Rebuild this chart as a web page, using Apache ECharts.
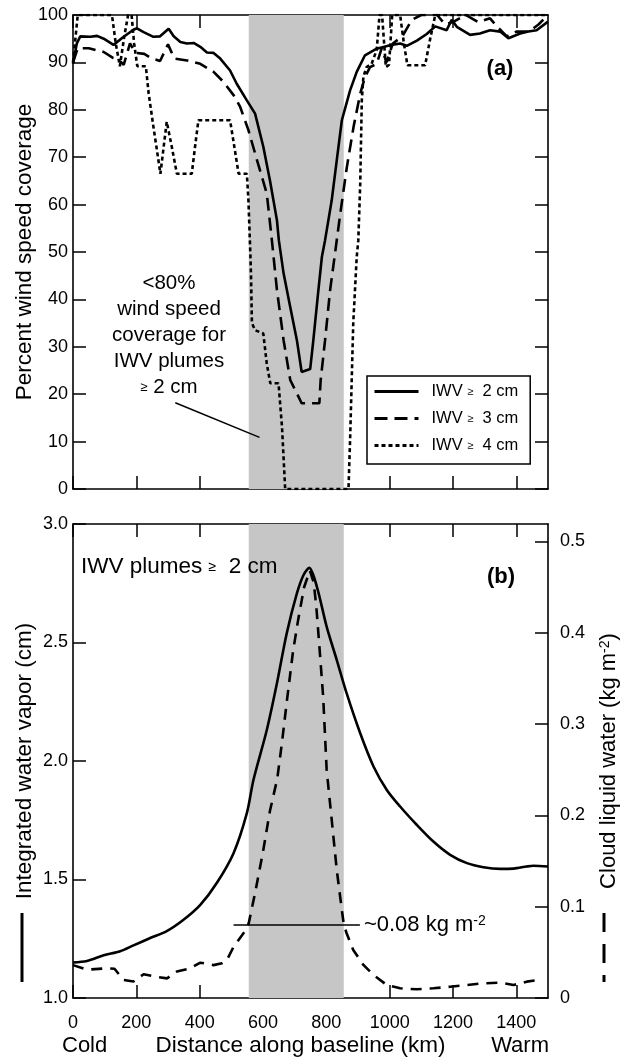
<!DOCTYPE html>
<html>
<head>
<meta charset="utf-8">
<script src="https://cdn.jsdelivr.net/npm/echarts@6/dist/echarts.min.js"></script>
<style>
  html, body { margin: 0; padding: 0; background: #fff; }
  #chart { width: 624px; height: 1059px; }
</style>
</head>
<body>
<div id="chart"></div>
<script>
// Distance along baseline (km) vs. percent wind speed coverage, panel (a)
const coverageIWV2 = [
  [0,89.7],[12,94],[23,95.5],[55,95.4],[76,95.6],[97,95.0],[128,93.7],[160,95.4],[191,96.9],[202,97.2],
  [223,96.4],[254,95.4],[275,95.5],[302,97.1],[318,95.5],[339,94.3],[360,94.0],[381,94.1],[402,93.3],
  [423,92.1],[444,92.0],[465,90.8],[496,88.3],[517,85.5],[549,82.0],[575,79.2],[601,72.2],[622,65.1],
  [644,56.7],[650,52.5],[665,45.5],[686,38.4],[707,31.4],[722,24.7],[749,25.3],[759,31.4],[775,42],
  [786,49],[796,52.5],[817,60.9],[833,69.4],[849,77.8],[875,84.1],[896,88.0],[922,91.5],[959,92.9],
  [1001,93.6],[1033,94.0],[1054,93.5],[1086,94.6],[1117,96],[1144,97.6],[1180,96.8],[1196,99.0],
  [1212,97.5],[1254,95.8],[1285,96.1],[1317,96.8],[1349,96.5],[1375,95.1],[1412,96.1],[1438,96.5],
  [1464,96.8],[1500,98.6]
];
const coverageIWV3 = [
  [0,90],[15,93],[50,93],[97,92.2],[125,91],[145,90.5],[160,89.5],[180,94],[198,92],[225,91.8],
  [250,90.8],[275,90.3],[300,93.8],[320,90.8],[360,90.4],[402,89.7],[444,88.0],[475,85.9],[507,83.1],
  [528,80.6],[554,75.7],[581,69.4],[612,62.3],[628,52.5],[644,42],[665,31.4],[686,23],[712,19.5],
  [722,18.1],[778,18.1],[782,22.9],[796,31.4],[812,42],[828,50],[844,58.1],[865,68],[886,76.4],
  [907,83.4],[922,86.9],[938,89],[959,89.7],[975,93],[990,90],[1010,94],[1040,95.5],[1070,99],
  [1100,100],[1150,100],[1175,98],[1200,98.5],[1240,100],[1280,98.5],[1317,99.3],[1340,97.5],
  [1370,95.5],[1400,96.5],[1440,96.5],[1470,98],[1500,100]
];
const coverageIWV4 = [
  [0,90],[15,100],[123,100],[135,94],[148,89.2],[162,95.5],[174,100],[185,100],[193,94],[203,89.2],
  [230,89.2],[239,83.4],[254,76.4],[265,71.5],[276,66.5],[286,72],[296,77.5],[312,72.2],[328,66.5],
  [375,66.5],[385,72],[396,77.8],[496,77.8],[510,72],[523,66.5],[549,66.5],[554,60.9],[560,49.7],
  [562,45.4],[565,35],[575,33.5],[601,32.8],[612,26.4],[623,22.3],[649,22.3],[660,13.1],[670,0],
  [870,0],[875,10.3],[885,35],[896,49],[901,52.5],[907,64.4],[912,82],[917,87],[927,89],[943,89.7],
  [959,92.6],[968,100],[976,100],[988,89],[998,89.5],[1008,100],[1033,100],[1045,94],[1056,89.4],
  [1112,89.4],[1128,95],[1144,100],[1500,100]
];

// Panel (b): integrated water vapor (cm) and cloud liquid water (kg m-2)
const waterVapor = [
  [0,1.150],[44,1.156],[97,1.18],[149,1.197],[191,1.222],[244,1.253],[296,1.282],[349,1.330],
  [402,1.393],[454,1.485],[507,1.611],[549,1.780],[570,1.921],[612,2.131],[644,2.328],[675,2.539],
  [707,2.707],[728,2.785],[746,2.815],[770,2.736],[801,2.567],[833,2.426],[864,2.286],[907,2.117],
  [949,1.977],[991,1.878],[1033,1.808],[1086,1.730],[1138,1.660],[1191,1.604],[1244,1.569],
  [1296,1.552],[1349,1.545],[1391,1.546],[1433,1.555],[1454,1.558],[1500,1.555]
];
const cloudWater = [
  [0,0.036],[44,0.031],[107,0.0325],[131,0.032],[160,0.0197],[191,0.018],[223,0.026],[265,0.023],
  [297,0.0215],[328,0.029],[370,0.0325],[402,0.0387],[444,0.036],[470,0.038],[486,0.0416],
  [507,0.056],[528,0.066],[545,0.074],[555,0.082],[575,0.115],[600,0.16],[622,0.205],[645,0.24],
  [660,0.28],[676,0.327],[695,0.38],[711,0.414],[730,0.45],[748,0.468],[760,0.455],[768,0.43],
  [777,0.39],[790,0.33],[801,0.25],[817,0.195],[833,0.14],[849,0.0964],[855,0.081],[864,0.0709],
  [885,0.0526],[917,0.0362],[949,0.0252],[991,0.0142],[1033,0.0106],[1086,0.0095],[1138,0.0106],
  [1191,0.0124],[1244,0.0142],[1296,0.0161],[1349,0.0168],[1391,0.0142],[1433,0.0179],[1470,0.0197]
];

// Region where cloud liquid water exceeds ~0.08 kg m-2
const plumeBand = [555, 855];
const clwThreshold = 0.08;
const thresholdSpan = [507, 906];
// Leader line from the panel (a) note to the shaded region
const noteLeader = [[323, 18.2], [589, 10.9]];

const distanceTicks = [0, 200, 400, 600, 800, 1000, 1200, 1400];
const clwTicks = [0, 0.1, 0.2, 0.3, 0.4, 0.5];
const seriesNames = ['IWV \u2265 2 cm', 'IWV \u2265 3 cm', 'IWV \u2265 4 cm'];

const FONT = '"Liberation Sans", Arial, Helvetica, sans-serif';
const INK = '#000';
const BAND = '#c6c6c6';

function ticks() {
  return { inside: true, length: 13, lineStyle: { color: INK, width: 1.5 } };
}
function axisLine() { return { show: true, onZero: false, lineStyle: { color: INK, width: 1.6 } }; }
function labelFont() { return { fontFamily: FONT, fontSize: 18, color: INK }; }

function distanceAxis(gridIndex, position, withLabels) {
  return {
    type: 'value', gridIndex, position, min: 0, max: 1500,
    axisLine: axisLine(),
    axisTick: Object.assign({ customValues: distanceTicks }, ticks()),
    axisLabel: Object.assign({ show: withLabels, customValues: distanceTicks, margin: 16, formatter: v => String(v) }, labelFont()),
    splitLine: { show: false }
  };
}

const chart = echarts.init(document.getElementById('chart'), null, { renderer: 'canvas' });

const option = {
  animation: false,
  backgroundColor: '#fff',
  grid: [
    { left: 73, right: 76, top: 15, height: 474, containLabel: false, outerBoundsMode: 'none' },
    { left: 73, right: 76, top: 524, height: 474, containLabel: false, outerBoundsMode: 'none' }
  ],
  xAxis: [
    distanceAxis(0, 'bottom', false),
    distanceAxis(0, 'top', false),
    Object.assign(distanceAxis(1, 'bottom', true), {
      name: 'Distance along baseline (km)', nameLocation: 'middle', nameGap: 36,
      nameTextStyle: { fontFamily: FONT, fontSize: 22.5, color: INK, padding: [0, 20, 0, 0] }
    }),
    distanceAxis(1, 'top', false)
  ],
  yAxis: [
    {
      type: 'value', gridIndex: 0, position: 'left', min: 0, max: 100, interval: 10,
      axisLine: axisLine(), axisTick: ticks(),
      axisLabel: Object.assign({ margin: 5 }, labelFont()),
      splitLine: { show: false },
      name: 'Percent wind speed coverage', nameLocation: 'middle', nameGap: 37, nameRotate: 90,
      nameMoveOverlap: false,
      nameTextStyle: { fontFamily: FONT, fontSize: 22.5, color: INK }
    },
    {
      type: 'value', gridIndex: 0, position: 'right', min: 0, max: 100, interval: 10,
      axisLine: axisLine(), axisTick: ticks(), axisLabel: { show: false }, splitLine: { show: false }
    },
    {
      type: 'value', gridIndex: 1, position: 'left', min: 1, max: 3, interval: 0.5,
      axisLine: axisLine(), axisTick: ticks(),
      axisLabel: Object.assign({ margin: 5, formatter: v => v.toFixed(1) }, labelFont()),
      splitLine: { show: false },
      name: 'Integrated water vapor (cm)', nameLocation: 'middle', nameGap: 37, nameRotate: 90,
      nameMoveOverlap: false,
      nameTextStyle: { fontFamily: FONT, fontSize: 22.5, color: INK }
    },
    {
      type: 'value', gridIndex: 1, position: 'right', min: 0, max: 0.519,
      axisLine: axisLine(),
      axisTick: Object.assign({ customValues: clwTicks }, ticks()),
      axisLabel: Object.assign({ margin: 12, customValues: clwTicks }, labelFont()),
      splitLine: { show: false },
      name: 'Cloud liquid water (kg m{sup|-2})', nameLocation: 'middle', nameGap: 50, nameRotate: 90,
      nameTextStyle: {
        fontFamily: FONT, fontSize: 22, color: INK,
        rich: { sup: { fontFamily: FONT, fontSize: 14, color: INK, verticalAlign: 'top', padding: [0, 0, 8, 0] } }
      }
    }
  ],
  legend: {
    data: seriesNames,
    orient: 'vertical', left: 367, top: 376,
    itemWidth: 44, itemHeight: 14, itemGap: 10,
    padding: [7, 12, 10, 6],
    borderColor: INK, borderWidth: 1.5, borderRadius: 0,
    backgroundColor: '#fff',
    itemStyle: { color: 'rgba(0,0,0,0)', borderColor: 'rgba(0,0,0,0)', borderWidth: 0 },
    lineStyle: { width: 3 },
    formatter: name => name.replace('\u2265 ', '{ge|\u2265}  '),
    textStyle: {
      fontFamily: FONT, fontSize: 16.5, color: INK, padding: [0, 0, 0, 8],
      rich: { ge: { fontFamily: FONT, fontSize: 11, color: INK } }
    }
  },
  series: [
    {
      // shaded plume region and the leader line of panel (a)
      type: 'line', xAxisIndex: 0, yAxisIndex: 0, data: [], silent: true, z: 1,
      markArea: { silent: true, itemStyle: { color: BAND }, data: [[{ xAxis: plumeBand[0] }, { xAxis: plumeBand[1] }]] },
      markLine: {
        silent: true, symbol: 'none', label: { show: false },
        lineStyle: { color: INK, width: 1.5, type: 'solid' },
        data: [[{ coord: noteLeader[0] }, { coord: noteLeader[1] }]]
      }
    },
    {
      type: 'line', xAxisIndex: 2, yAxisIndex: 2, data: [], silent: true, z: 1,
      markArea: { silent: true, itemStyle: { color: BAND }, data: [[{ xAxis: plumeBand[0] }, { xAxis: plumeBand[1] }]] }
    },
    {
      name: seriesNames[0], type: 'line', xAxisIndex: 0, yAxisIndex: 0, data: coverageIWV2,
      symbol: 'none', z: 3, lineStyle: { color: INK, width: 2.6, type: 'solid' }, itemStyle: { color: INK }
    },
    {
      name: seriesNames[1], type: 'line', xAxisIndex: 0, yAxisIndex: 0, data: coverageIWV3,
      symbol: 'none', z: 3, lineStyle: { color: INK, width: 2.6, type: [13, 7] }, itemStyle: { color: INK }
    },
    {
      name: seriesNames[2], type: 'line', xAxisIndex: 0, yAxisIndex: 0, data: coverageIWV4,
      symbol: 'none', z: 3, lineStyle: { color: INK, width: 2.6, type: [4, 3] }, itemStyle: { color: INK }
    },
    {
      name: 'IWV', type: 'line', xAxisIndex: 2, yAxisIndex: 2, data: waterVapor, smooth: 0.3,
      symbol: 'none', z: 3, lineStyle: { color: INK, width: 2.6, type: 'solid' }
    },
    {
      name: 'CLW', type: 'line', xAxisIndex: 2, yAxisIndex: 3, data: cloudWater,
      symbol: 'none', z: 3, lineStyle: { color: INK, width: 2.6, type: [11, 8] },
      markLine: {
        silent: true, symbol: 'none',
        lineStyle: { color: INK, width: 1.5, type: 'solid' },
        label: {
          show: true, position: 'end', distance: 4,
          formatter: '~0.08 kg m{sup|-2}',
          fontFamily: FONT, fontSize: 22, color: INK,
          rich: { sup: { fontFamily: FONT, fontSize: 14, color: INK, verticalAlign: 'top', padding: [0, 0, 8, 0] } }
        },
        data: [[{ coord: [thresholdSpan[0], clwThreshold] }, { coord: [thresholdSpan[1], clwThreshold] }]]
      }
    }
  ],
  graphic: [
    { type: 'text', z: 100, x: 500, y: 69, style: { text: '(a)', fontFamily: FONT, fontSize: 22, fontWeight: 'bold', fill: INK, align: 'center', verticalAlign: 'middle' } },
    { type: 'text', z: 100, x: 501, y: 577, style: { text: '(b)', fontFamily: FONT, fontSize: 22, fontWeight: 'bold', fill: INK, align: 'center', verticalAlign: 'middle' } },
    {
      type: 'text', z: 100, x: 169, y: 335,
      style: {
        text: '<80%\nwind speed\ncoverage for\nIWV plumes\n{ge|\u2265} 2 cm',
        fontFamily: FONT, fontSize: 20.5, lineHeight: 26, fill: INK, align: 'center', verticalAlign: 'middle',
        rich: { ge: { fontFamily: FONT, fontSize: 13, fill: INK, lineHeight: 26 } }
      }
    },
    {
      type: 'text', z: 100, x: 81, y: 567,
      style: {
        text: 'IWV plumes {ge|\u2265}  2 cm', fontFamily: FONT, fontSize: 22.5, fill: INK, align: 'left', verticalAlign: 'middle',
        rich: { ge: { fontFamily: FONT, fontSize: 14, fill: INK } }
      }
    },
    { type: 'text', z: 100, x: 62, y: 1046, style: { text: 'Cold', fontFamily: FONT, fontSize: 22, fill: INK, align: 'left', verticalAlign: 'middle' } },
    { type: 'text', z: 100, x: 549, y: 1046, style: { text: 'Warm', fontFamily: FONT, fontSize: 22, fill: INK, align: 'right', verticalAlign: 'middle' } },
    { type: 'line', z: 100, shape: { x1: 22, y1: 913, x2: 22, y2: 982 }, style: { stroke: INK, lineWidth: 3 } },
    { type: 'line', z: 100, shape: { x1: 604, y1: 913, x2: 604, y2: 982 }, style: { stroke: INK, lineWidth: 3, lineDash: [19, 12] } }
  ]
};

chart.setOption(option);
</script>
</body>
</html>
